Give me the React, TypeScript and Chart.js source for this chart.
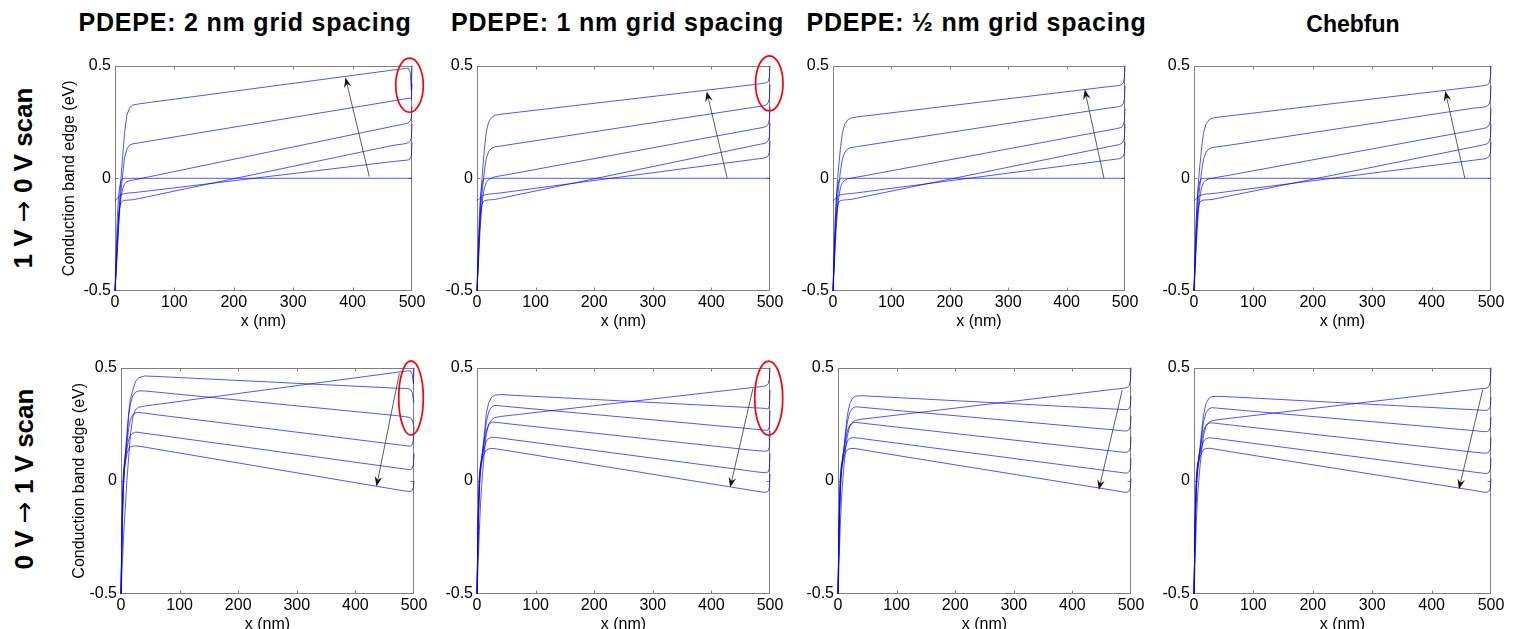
import React, { useEffect, useRef } from "react";
import { Chart, registerables } from "chart.js";
Chart.register(...registerables);

// ---------- text ----------
const COL_TITLES = ["PDEPE: 2 nm grid spacing", "PDEPE: 1 nm grid spacing", "PDEPE: ½ nm grid spacing", "Chebfun"];
const ROW_TITLES = [["1 V ", "→", " 0 V scan"], ["0 V ", "→", " 1 V scan"]];
const Y_LABEL = "Conduction band edge (eV)";
const X_LABEL = "x (nm)";

// ---------- axes ----------
const X_TICKS = [0, 100, 200, 300, 400, 500];
const Y_TICKS = [-0.5, 0, 0.5];

// ---------- shared x grid (nm) ----------
const X_NM = [0, 2, 4, 6, 8, 10, 13, 16, 20, 25, 30, 40, 60, 470, 485, 490, 494, 497, 499, 500];

// ---------- 1 V -> 0 V scan ----------
const UP_FLAT = [-0.5, -0.32, -0.17, -0.08, -0.035, -0.012, 0, 0, 0, 0, 0, 0, 0, 0, 0, 0, 0, 0, 0, 0];

const UP_2NM_1 = [-0.5, -0.38, -0.27, -0.17, -0.09, 0.0, 0.1, 0.2, 0.28, 0.315, 0.325, 0.33, 0.337, 0.481, 0.486, 0.488, 0.488, 0.47, 0.39, 0.5];
const UP_2NM_2 = [-0.5, -0.4, -0.3, -0.2, -0.12, -0.06, 0.02, 0.09, 0.13, 0.148, 0.153, 0.157, 0.166, 0.344, 0.351, 0.353, 0.355, 0.356, 0.35, 0.42];
const UP_2NM_3 = [-0.5, -0.42, -0.32, -0.22, -0.14, -0.085, -0.045, -0.025, -0.015, -0.01, -0.008, -0.003, 0.008, 0.232, 0.24, 0.243, 0.247, 0.255, 0.268, 0.32];
const UP_2NM_4 = [-0.5, -0.38, -0.26, -0.17, -0.125, -0.108, -0.1, -0.098, -0.097, -0.096, -0.095, -0.09, -0.079, 0.147, 0.152, 0.155, 0.158, 0.166, 0.18, 0.24];
const UP_2NM_5 = [-0.1, -0.095, -0.088, -0.082, -0.077, -0.073, -0.07, -0.068, -0.066, -0.065, -0.064, -0.061, -0.055, 0.075, 0.079, 0.08, 0.082, 0.088, 0.1, 0.16];

const UP_1NM_1 = [-0.5, -0.36, -0.22, -0.1, -0.02, 0.05, 0.14, 0.21, 0.25, 0.27, 0.279, 0.284, 0.29, 0.415, 0.42, 0.422, 0.424, 0.43, 0.45, 0.5];
const UP_1NM_2 = [-0.5, -0.38, -0.25, -0.15, -0.08, -0.03, 0.04, 0.09, 0.12, 0.133, 0.139, 0.143, 0.151, 0.314, 0.32, 0.322, 0.326, 0.336, 0.355, 0.415];
const UP_1NM_3 = [-0.5, -0.4, -0.29, -0.2, -0.13, -0.08, -0.04, -0.018, -0.005, 0.002, 0.006, 0.011, 0.02, 0.217, 0.224, 0.227, 0.231, 0.241, 0.26, 0.32];
const UP_1NM_4 = [-0.5, -0.36, -0.24, -0.16, -0.12, -0.105, -0.099, -0.097, -0.096, -0.095, -0.094, -0.089, -0.078, 0.144, 0.152, 0.154, 0.158, 0.167, 0.185, 0.245];
const UP_1NM_5 = [-0.1, -0.095, -0.09, -0.085, -0.08, -0.077, -0.074, -0.072, -0.07, -0.069, -0.068, -0.065, -0.058, 0.083, 0.088, 0.09, 0.093, 0.1, 0.115, 0.165];

const UP_HALF_1 = [-0.5, -0.34, -0.19, -0.08, 0.0, 0.06, 0.14, 0.2, 0.24, 0.259, 0.267, 0.272, 0.278, 0.406, 0.41, 0.412, 0.415, 0.424, 0.445, 0.5];
const UP_HALF_2 = [-0.5, -0.38, -0.25, -0.15, -0.08, -0.03, 0.035, 0.085, 0.115, 0.13, 0.136, 0.14, 0.148, 0.311, 0.316, 0.318, 0.322, 0.332, 0.35, 0.41];
const UP_HALF_3 = [-0.5, -0.4, -0.29, -0.2, -0.13, -0.08, -0.04, -0.02, -0.009, -0.003, 0.0, 0.005, 0.014, 0.213, 0.22, 0.223, 0.227, 0.237, 0.255, 0.31];
const UP_HALF_4 = [-0.5, -0.36, -0.24, -0.16, -0.12, -0.105, -0.099, -0.097, -0.096, -0.095, -0.094, -0.089, -0.078, 0.139, 0.147, 0.15, 0.154, 0.163, 0.18, 0.24];
const UP_HALF_5 = [-0.1, -0.095, -0.09, -0.085, -0.08, -0.077, -0.074, -0.072, -0.07, -0.069, -0.068, -0.065, -0.058, 0.08, 0.085, 0.087, 0.09, 0.098, 0.112, 0.16];

const UP_CHEB_1 = [-0.5, -0.33, -0.18, -0.07, 0.0, 0.06, 0.14, 0.2, 0.24, 0.258, 0.266, 0.271, 0.277, 0.405, 0.41, 0.412, 0.415, 0.424, 0.445, 0.5];
const UP_CHEB_2 = [-0.5, -0.38, -0.25, -0.15, -0.08, -0.03, 0.035, 0.085, 0.115, 0.13, 0.136, 0.14, 0.147, 0.311, 0.315, 0.317, 0.321, 0.331, 0.35, 0.41];
const UP_CHEB_3 = [-0.5, -0.4, -0.29, -0.2, -0.13, -0.08, -0.04, -0.02, -0.009, -0.003, 0.0, 0.005, 0.014, 0.213, 0.22, 0.223, 0.227, 0.237, 0.255, 0.31];
const UP_CHEB_4 = [-0.5, -0.36, -0.24, -0.16, -0.12, -0.105, -0.099, -0.097, -0.096, -0.095, -0.094, -0.089, -0.078, 0.139, 0.147, 0.15, 0.154, 0.163, 0.18, 0.24];
const UP_CHEB_5 = [-0.1, -0.095, -0.09, -0.085, -0.08, -0.077, -0.074, -0.072, -0.07, -0.069, -0.068, -0.065, -0.058, 0.08, 0.085, 0.087, 0.09, 0.098, 0.112, 0.16];

// ---------- 0 V -> 1 V scan ----------
const DN_2NM_R = [-0.5, -0.38, -0.27, -0.17, -0.09, 0.0, 0.1, 0.2, 0.28, 0.315, 0.325, 0.33, 0.337, 0.479, 0.484, 0.486, 0.485, 0.47, 0.43, 0.5];
const DN_2NM_1 = [-0.5, -0.15, 0.02, 0.08, 0.14, 0.2, 0.3, 0.36, 0.4, 0.44, 0.455, 0.463, 0.461, 0.409, 0.408, 0.407, 0.403, 0.39, 0.36, 0.345];
const DN_2NM_2 = [-0.5, -0.15, 0.02, 0.08, 0.13, 0.19, 0.28, 0.34, 0.375, 0.392, 0.397, 0.397, 0.392, 0.288, 0.283, 0.281, 0.278, 0.268, 0.25, 0.245];
const DN_2NM_3 = [-0.5, -0.18, 0.0, 0.07, 0.11, 0.16, 0.23, 0.27, 0.292, 0.3, 0.302, 0.299, 0.292, 0.16, 0.155, 0.154, 0.153, 0.16, 0.18, 0.24];
const DN_2NM_4 = [-0.5, -0.2, -0.02, 0.06, 0.1, 0.14, 0.18, 0.2, 0.21, 0.215, 0.214, 0.21, 0.203, 0.057, 0.052, 0.05, 0.05, 0.055, 0.07, 0.12];
const DN_2NM_5 = [-0.5, -0.22, -0.04, 0.05, 0.09, 0.12, 0.14, 0.15, 0.153, 0.154, 0.153, 0.149, 0.14, -0.039, -0.045, -0.047, -0.047, -0.042, -0.03, 0.0];

const DN_1NM_R = [-0.5, -0.36, -0.22, -0.1, -0.02, 0.05, 0.14, 0.21, 0.25, 0.27, 0.279, 0.284, 0.29, 0.412, 0.416, 0.418, 0.421, 0.43, 0.45, 0.5];
const DN_1NM_1 = [-0.5, -0.15, 0.02, 0.07, 0.1, 0.14, 0.22, 0.3, 0.345, 0.37, 0.378, 0.381, 0.378, 0.323, 0.321, 0.32, 0.318, 0.318, 0.33, 0.4];
const DN_1NM_2 = [-0.5, -0.17, 0.01, 0.07, 0.1, 0.14, 0.2, 0.26, 0.305, 0.326, 0.333, 0.331, 0.326, 0.229, 0.225, 0.224, 0.223, 0.225, 0.24, 0.31];
const DN_1NM_3 = [-0.5, -0.18, 0.0, 0.06, 0.1, 0.13, 0.18, 0.22, 0.248, 0.259, 0.259, 0.256, 0.25, 0.135, 0.132, 0.131, 0.131, 0.134, 0.15, 0.22];
const DN_1NM_4 = [-0.5, -0.2, -0.02, 0.05, 0.09, 0.12, 0.15, 0.175, 0.187, 0.192, 0.192, 0.189, 0.182, 0.042, 0.037, 0.036, 0.036, 0.04, 0.055, 0.12];
const DN_1NM_5 = [-0.5, -0.22, -0.04, 0.04, 0.08, 0.105, 0.125, 0.136, 0.141, 0.143, 0.142, 0.138, 0.13, -0.043, -0.049, -0.051, -0.05, -0.045, -0.03, 0.03];

const DN_HALF_R = [-0.5, -0.34, -0.19, -0.08, 0.0, 0.06, 0.14, 0.2, 0.24, 0.259, 0.267, 0.272, 0.278, 0.404, 0.408, 0.41, 0.413, 0.422, 0.443, 0.5];
const DN_HALF_1 = [-0.5, -0.15, 0.02, 0.07, 0.1, 0.14, 0.22, 0.29, 0.34, 0.366, 0.374, 0.376, 0.373, 0.317, 0.315, 0.314, 0.315, 0.32, 0.333, 0.375];
const DN_HALF_2 = [-0.5, -0.17, 0.01, 0.07, 0.1, 0.14, 0.2, 0.26, 0.302, 0.321, 0.327, 0.325, 0.32, 0.225, 0.221, 0.22, 0.221, 0.227, 0.24, 0.285];
const DN_HALF_3 = [-0.5, -0.18, 0.0, 0.06, 0.1, 0.13, 0.18, 0.22, 0.246, 0.256, 0.258, 0.255, 0.249, 0.131, 0.127, 0.126, 0.127, 0.133, 0.146, 0.195];
const DN_HALF_4 = [-0.5, -0.2, -0.02, 0.05, 0.09, 0.12, 0.15, 0.175, 0.187, 0.191, 0.19, 0.187, 0.18, 0.041, 0.036, 0.034, 0.035, 0.041, 0.054, 0.1];
const DN_HALF_5 = [-0.5, -0.22, -0.04, 0.04, 0.08, 0.105, 0.125, 0.137, 0.142, 0.143, 0.142, 0.138, 0.129, -0.042, -0.049, -0.051, -0.05, -0.044, -0.032, 0.01];

const DN_CHEB_R = [-0.5, -0.33, -0.18, -0.07, 0.0, 0.06, 0.14, 0.2, 0.24, 0.258, 0.265, 0.27, 0.276, 0.403, 0.407, 0.408, 0.411, 0.42, 0.44, 0.5];
const DN_CHEB_1 = [-0.5, -0.15, 0.02, 0.07, 0.1, 0.14, 0.22, 0.29, 0.34, 0.364, 0.372, 0.373, 0.371, 0.314, 0.312, 0.311, 0.312, 0.318, 0.33, 0.37];
const DN_CHEB_2 = [-0.5, -0.17, 0.01, 0.07, 0.1, 0.14, 0.2, 0.26, 0.3, 0.318, 0.323, 0.321, 0.316, 0.222, 0.218, 0.217, 0.218, 0.224, 0.237, 0.28];
const DN_CHEB_3 = [-0.5, -0.18, 0.0, 0.06, 0.1, 0.13, 0.18, 0.22, 0.245, 0.255, 0.256, 0.253, 0.247, 0.127, 0.123, 0.122, 0.123, 0.129, 0.142, 0.19];
const DN_CHEB_4 = [-0.5, -0.2, -0.02, 0.05, 0.09, 0.12, 0.15, 0.175, 0.186, 0.19, 0.189, 0.186, 0.179, 0.039, 0.034, 0.032, 0.033, 0.039, 0.052, 0.1];
const DN_CHEB_5 = [-0.5, -0.22, -0.04, 0.04, 0.08, 0.105, 0.125, 0.137, 0.142, 0.144, 0.142, 0.138, 0.129, -0.042, -0.049, -0.051, -0.05, -0.044, -0.032, 0.01];

// ---------- annotations (data units): arrow [xTail, yTail, xHead, yHead]; ring [cx, cy, rx, ry] ----------
const ARROW_UP_2NM = [428, 0.008, 388, 0.447];
const ARROW_UP_1NM = [427, 0.0, 392, 0.385];
const ARROW_UP_HALF = [464, 0.0, 431, 0.394];
const ARROW_UP_CHEB = [456, 0.0, 423, 0.387];
const ARROW_DN_2NM = [475, 0.475, 436, -0.025];
const ARROW_DN_1NM = [471, 0.409, 432, -0.029];
const ARROW_DN_HALF = [485, 0.4, 445, -0.04];
const ARROW_DN_CHEB = [486, 0.402, 446, -0.037];

const RING_UP_2NM = [495.8, 0.413, 23.2, 0.12];
const RING_UP_1NM = [498.8, 0.421, 23.4, 0.122];
const RING_DN_2NM = [494.9, 0.366, 21, 0.164];
const RING_DN_1NM = [497.8, 0.365, 23.9, 0.164];

// ---------- layout (pixels) ----------
const FONT = "'Liberation Sans', Arial, Helvetica, sans-serif";
const PT = 12, PR = 22, XH = 40;
const ROW_TOP = [64, 366];
const ROW_H = [227, 228];
const PANEL_LAYOUT = [
  [{ l: 115, w: 297, ax: 57 }, { l: 477, w: 293, ax: 45 }, { l: 833, w: 292, ax: 45 }, { l: 1194, w: 297, ax: 45 }],
  [{ l: 121, w: 293, ax: 53 }, { l: 477, w: 293, ax: 45 }, { l: 838, w: 293, ax: 45 }, { l: 1194, w: 297, ax: 45 }],
];
const TITLE_CX = [245, 617.5, 976.5, 1353];
const ROW_LABEL_C = [[23, 177.5], [24, 478.5]];

const PANEL_SERIES = [
  [
    [UP_FLAT, UP_2NM_1, UP_2NM_2, UP_2NM_3, UP_2NM_4, UP_2NM_5],
    [UP_FLAT, UP_1NM_1, UP_1NM_2, UP_1NM_3, UP_1NM_4, UP_1NM_5],
    [UP_FLAT, UP_HALF_1, UP_HALF_2, UP_HALF_3, UP_HALF_4, UP_HALF_5],
    [UP_FLAT, UP_CHEB_1, UP_CHEB_2, UP_CHEB_3, UP_CHEB_4, UP_CHEB_5],
  ],
  [
    [DN_2NM_R, DN_2NM_1, DN_2NM_2, DN_2NM_3, DN_2NM_4, DN_2NM_5],
    [DN_1NM_R, DN_1NM_1, DN_1NM_2, DN_1NM_3, DN_1NM_4, DN_1NM_5],
    [DN_HALF_R, DN_HALF_1, DN_HALF_2, DN_HALF_3, DN_HALF_4, DN_HALF_5],
    [DN_CHEB_R, DN_CHEB_1, DN_CHEB_2, DN_CHEB_3, DN_CHEB_4, DN_CHEB_5],
  ],
];
const PANEL_ARROWS = [
  [ARROW_UP_2NM, ARROW_UP_1NM, ARROW_UP_HALF, ARROW_UP_CHEB],
  [ARROW_DN_2NM, ARROW_DN_1NM, ARROW_DN_HALF, ARROW_DN_CHEB],
];
const PANEL_RINGS = [
  [RING_UP_2NM, RING_UP_1NM, null, null],
  [RING_DN_2NM, RING_DN_1NM, null, null],
];

// ---------- plugin: MATLAB-style box, inward ticks, arrow, red ring ----------
const decorPlugin = {
  id: "decor",
  beforeDatasetsDraw(chart: any) {
    const { ctx, chartArea: a } = chart;
    const xs = chart.scales.x, ys = chart.scales.y;
    const L = Math.round(a.left) + 0.5, R = Math.round(a.right) - 0.5;
    const T = Math.round(a.top) + 0.5, B = Math.round(a.bottom) - 0.5;
    ctx.save();
    ctx.strokeStyle = "#808080";
    ctx.lineWidth = 1;
    ctx.strokeRect(L, T, R - L, B - T);
    ctx.beginPath();
    const tl = 3;
    for (const v of X_TICKS) {
      const px = Math.min(R, Math.max(L, Math.round(xs.getPixelForValue(v)) + 0.5));
      ctx.moveTo(px, B); ctx.lineTo(px, B - tl);
      ctx.moveTo(px, T); ctx.lineTo(px, T + tl);
    }
    for (const v of Y_TICKS) {
      const py = Math.min(B, Math.max(T, Math.round(ys.getPixelForValue(v)) + 0.5));
      ctx.moveTo(L, py); ctx.lineTo(L + tl, py);
      ctx.moveTo(R, py); ctx.lineTo(R - tl, py);
    }
    ctx.stroke();
    ctx.restore();
  },
  afterDatasetsDraw(chart: any, _args: any, opts: any) {
    const { ctx } = chart;
    const xs = chart.scales.x, ys = chart.scales.y;
    ctx.save();
    if (opts && opts.arrow) {
      const [x1, y1, x2, y2] = opts.arrow;
      const X1 = xs.getPixelForValue(x1), Y1 = ys.getPixelForValue(y1);
      const X2 = xs.getPixelForValue(x2), Y2 = ys.getPixelForValue(y2);
      const ang = Math.atan2(Y2 - Y1, X2 - X1);
      const c = Math.cos(ang), s = Math.sin(ang);
      const hl = 10, hw = 3.8;
      ctx.strokeStyle = "#333";
      ctx.fillStyle = "#111";
      ctx.lineWidth = 0.8;
      ctx.beginPath();
      ctx.moveTo(X1, Y1);
      ctx.lineTo(X2 - c * hl * 0.6, Y2 - s * hl * 0.6);
      ctx.stroke();
      ctx.beginPath();
      ctx.moveTo(X2, Y2);
      ctx.lineTo(X2 - c * hl - s * hw, Y2 - s * hl + c * hw);
      ctx.lineTo(X2 - c * hl * 0.65, Y2 - s * hl * 0.65);
      ctx.lineTo(X2 - c * hl + s * hw, Y2 - s * hl - c * hw);
      ctx.closePath();
      ctx.fill();
    }
    if (opts && opts.ring) {
      const [cx, cy, rx, ry] = opts.ring;
      const CX = xs.getPixelForValue(cx), CY = ys.getPixelForValue(cy);
      const RX = Math.abs(xs.getPixelForValue(cx + rx) - CX);
      const RY = Math.abs(ys.getPixelForValue(cy + ry) - CY);
      ctx.strokeStyle = "#ff0000";
      ctx.lineWidth = 1.7;
      ctx.beginPath();
      ctx.ellipse(CX, CY, RX, RY, 0, 0, Math.PI * 2);
      ctx.stroke();
    }
    ctx.restore();
  },
};

function Panel({ row, col }: { row: number; col: number }) {
  const ref = useRef<HTMLCanvasElement | null>(null);
  const lay = PANEL_LAYOUT[row][col];
  const plotH = ROW_H[row];
  const cw = lay.ax + lay.w + PR;
  const ch = PT + plotH + XH;
  const left = lay.l - lay.ax;
  const top = ROW_TOP[row] - PT;

  useEffect(() => {
    if (!ref.current) return;
    const series = PANEL_SERIES[row][col];
    const datasets = series.map((ys) => ({
      data: X_NM.map((x, i) => ({ x, y: ys[i] })),
      borderColor: "rgba(0,0,255,0.85)",
      borderWidth: 0.8,
      pointRadius: 0,
      tension: 0,
      fill: false,
      clip: 3,
    }));
    const tickFont = { family: FONT, size: 16 };
    const chart = new Chart(ref.current, {
      type: "line",
      data: { datasets },
      plugins: [decorPlugin],
      options: {
        animation: false,
        responsive: false,
        maintainAspectRatio: false,
        devicePixelRatio: 1,
        events: [],
        layout: { padding: { top: PT, right: PR, left: 0, bottom: 0 } },
        plugins: {
          legend: { display: false },
          tooltip: { enabled: false },
          decor: { arrow: PANEL_ARROWS[row][col], ring: PANEL_RINGS[row][col] },
        } as any,
        scales: {
          x: {
            type: "linear",
            min: 0,
            max: 500,
            afterBuildTicks: (s: any) => {
              s.ticks = X_TICKS.map((v) => ({ value: v }));
            },
            afterFit: (s: any) => {
              s.height = XH;
            },
            ticks: {
              font: tickFont,
              color: "#000",
              padding: 2,
              maxRotation: 0,
              autoSkip: false,
              callback: (v: any) => String(v),
            },
            grid: { display: false, drawTicks: false },
            border: { display: false },
            title: {
              display: true,
              text: X_LABEL,
              font: tickFont,
              color: "#000",
              padding: { top: 0, bottom: 0 },
            },
          },
          y: {
            type: "linear",
            min: -0.5,
            max: 0.5,
            afterBuildTicks: (s: any) => {
              s.ticks = Y_TICKS.map((v) => ({ value: v }));
            },
            afterFit: (s: any) => {
              s.width = lay.ax;
            },
            ticks: {
              font: tickFont,
              color: "#000",
              padding: 4,
              autoSkip: false,
              callback: (v: any) => String(v),
            },
            grid: { display: false, drawTicks: false },
            border: { display: false },
            title: {
              display: col === 0,
              text: Y_LABEL,
              font: tickFont,
              color: "#000",
              padding: { top: 2, bottom: 0 },
            },
          },
        },
      } as any,
    });
    return () => chart.destroy();
  }, [row, col]);

  return (
    <canvas
      ref={ref}
      width={cw}
      height={ch}
      style={{ position: "absolute", left, top, width: cw, height: ch }}
    />
  );
}

export default function App() {
  return (
    <div
      style={{
        position: "absolute",
        left: 0,
        top: 0,
        width: 1516,
        height: 629,
        overflow: "hidden",
        background: "#fff",
        fontFamily: FONT,
        color: "#000",
      }}
    >
      {COL_TITLES.map((t, i) => (
        <div
          key={"t" + i}
          style={{
            position: "absolute",
            left: TITLE_CX[i] - 250,
            width: 500,
            top: i === 3 ? 9 : 7,
            fontSize: i === 3 ? 23 : 25,
            lineHeight: "30px",
            fontWeight: "bold",
            textAlign: "center",
            whiteSpace: "nowrap",
            letterSpacing: i === 3 ? 0 : 0.8,
          }}
        >
          {t}
        </div>
      ))}
      {ROW_TITLES.map((parts, i) => (
        <div
          key={"r" + i}
          style={{
            position: "absolute",
            left: ROW_LABEL_C[i][0],
            top: ROW_LABEL_C[i][1],
            transform: "translate(-50%, -50%) rotate(-90deg)",
            fontSize: 26,
            lineHeight: "30px",
            fontWeight: "bold",
            whiteSpace: "nowrap",
          }}
        >
          {parts[0]}
          <span style={{ fontFamily: "'DejaVu Sans', sans-serif", fontWeight: "normal" }}>{parts[1]}</span>
          {parts[2]}
        </div>
      ))}
      {[0, 1].map((r) => [0, 1, 2, 3].map((c) => <Panel key={r + "-" + c} row={r} col={c} />))}
    </div>
  );
}
